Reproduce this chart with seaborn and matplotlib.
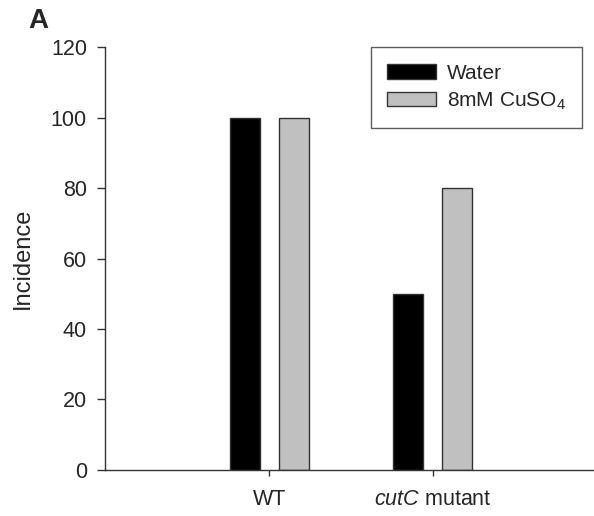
import matplotlib
matplotlib.use("Agg")
import matplotlib.pyplot as plt
import seaborn as sns
import pandas as pd

# Disease incidence per strain and treatment
strains = ["WT", "cutC mutant"]
treatments = ["Water", "8mM CuSO4"]
water_incidence = [100, 50]
cuso4_incidence = [100, 80]
strain_labels = ["WT", r"$\mathit{cutC}$ mutant"]
treatment_labels = ["Water", r"8mM CuSO$_4$"]
y_ticks = [0, 20, 40, 60, 80, 100, 120]

df = pd.DataFrame({
    "strain": strains * 2,
    "treatment": [treatments[0]] * 2 + [treatments[1]] * 2,
    "incidence": water_incidence + cuso4_incidence,
})

sns.set_style("white")
plt.rcParams["font.family"] = ["Liberation Sans", "DejaVu Sans"]
plt.rcParams["mathtext.fontset"] = "custom"
plt.rcParams["mathtext.rm"] = "Liberation Sans"
plt.rcParams["mathtext.it"] = "Liberation Sans:italic"
plt.rcParams["mathtext.default"] = "regular"

fig = plt.figure(figsize=(5.94, 5.16), dpi=100)
ax = fig.add_axes([0.1768, 0.0895, 0.822, 0.8188])

sns.barplot(
    data=df, x="strain", y="incidence", hue="treatment",
    order=strains, hue_order=treatments,
    palette={treatments[0]: "black", treatments[1]: "#c0c0c0"},
    width=0.6, gap=0.39, edgecolor="#333333", linewidth=1.0,
    errorbar=None, ax=ax,
)

ax.set_xlim(-1.005, 1.983)
ax.set_ylim(0, 120)
ax.set_yticks(y_ticks)
ax.set_xticks(range(len(strains)))
ax.set_xticklabels(strain_labels, fontsize=15.5)
ax.tick_params(axis="y", labelsize=15.5, direction="out", length=6, width=1,
               color="#333333", pad=7, left=True)
ax.tick_params(axis="x", direction="out", length=4.5, width=1,
               color="#333333", pad=9, bottom=True)
ax.set_xlabel("")
ax.set_ylabel("Incidence", fontsize=17, labelpad=12)

for side in ("top", "right"):
    ax.spines[side].set_visible(False)
for side in ("left", "bottom"):
    ax.spines[side].set_color("#333333")
    ax.spines[side].set_linewidth(1.0)

handles, _ = ax.get_legend_handles_labels()
leg = ax.legend(
    handles, treatment_labels, loc="upper right",
    bbox_to_anchor=(0.9775, 1.0), borderaxespad=0, fontsize=15,
    frameon=True, fancybox=False, edgecolor="#333333",
    handlelength=2.35, handleheight=0.72, handletextpad=0.5,
    labelspacing=0.35, borderpad=0.8,
)
leg.get_frame().set_linewidth(1.0)

fig.text(0.047, 0.9457, "A", fontsize=20, fontweight="bold", ha="left", va="baseline")

fig.savefig("out.png", dpi=100)
